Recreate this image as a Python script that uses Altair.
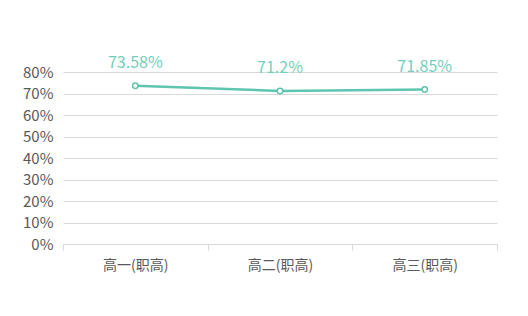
import altair as alt
import pandas as pd

categories = ["高一(职高)", "高二(职高)", "高三(职高)"]
values = [0.7358, 0.712, 0.7185]
labels = ["73.58%", "71.2%", "71.85%"]

df = pd.DataFrame({"cat": categories, "val": values, "lab": labels})

FONT = "Noto Sans CJK SC"
LINE = "#5ec5b0"
LABEL = "#72cfbd"

x = alt.X("cat:N", sort=categories, title=None,
          axis=alt.Axis(labelAngle=0, labelFontSize=14, labelColor="#595959", labelFont=FONT,
                        domainColor="#d9d9d9", tickColor="#d9d9d9", tickBand="extent",
                        tickSize=6, labelPadding=8, grid=False),
          scale=alt.Scale(paddingInner=0, paddingOuter=0))
y = alt.Y("val:Q", title=None,
          scale=alt.Scale(domain=[0, 0.8]),
          axis=alt.Axis(format=".0%", values=[i / 10 for i in range(9)], labelFontSize=15,
                        labelColor="#595959", labelFont=FONT, domain=False, ticks=False,
                        gridColor="#d9d9d9", labelPadding=10))

base = alt.Chart(df)
line = base.mark_line(color=LINE, strokeWidth=2.5).encode(x=x, y=y)
pts = base.mark_point(filled=True, fill="white", stroke=LINE, strokeWidth=1.5, size=30, opacity=1).encode(x=x, y=y)
txt = base.mark_text(color=LABEL, fontSize=16, font=FONT, dy=-23, baseline="middle").encode(x=x, y=y, text="lab:N")

chart = (line + pts + txt).properties(
    width=434, height=172, autosize="none",
    padding={"left": 55, "top": 64, "right": 23, "bottom": 64}
).configure(background="white").configure_view(stroke=None)

chart.save("out.html", embed_options={"renderer": "svg", "actions": False})
